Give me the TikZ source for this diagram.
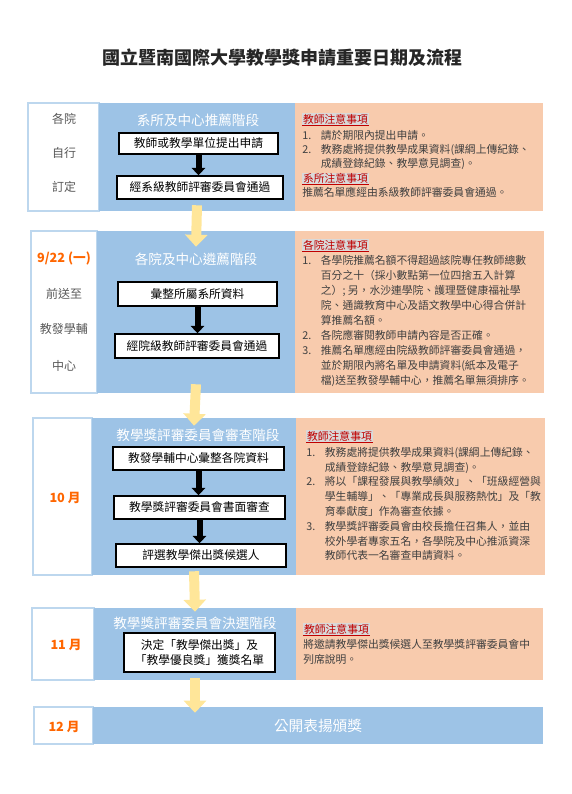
\documentclass[tikz,border=0pt]{standalone}
\usepackage{fontspec}
\setmainfont{Noto Sans CJK TC}
\usetikzlibrary{arrows.meta,positioning,calc,fit}
\definecolor{panelblue}{RGB}{157,195,230}
\definecolor{notepeach}{RGB}{248,203,173}
\definecolor{arrowyellow}{RGB}{255,230,153}
\definecolor{dateorange}{RGB}{255,102,0}
\definecolor{sidegray}{RGB}{89,89,89}
\definecolor{bodygray}{RGB}{64,64,64}
\definecolor{headred}{RGB}{192,0,0}
\definecolor{headhl}{RGB}{217,217,217}
\definecolor{sideline}{RGB}{189,215,238}

\newcommand\notehead[1]{%
  \setbox0=\hbox{\setlength{\fboxsep}{0.6pt}\colorbox{headhl}{\textcolor{headred}{#1}}}%
  \rlap{\usebox0}\textcolor{headred}{\rule[-\dimexpr\dp0+0.9pt\relax]{\wd0}{0.9pt}}}
\newcommand\itm[2]{\makebox[14pt][l]{#1}#2}
\newcommand\cnt[1]{\hspace*{14pt}#1}

\begin{document}
\begin{tikzpicture}[x=0.75pt,y=-0.75pt,
  panel/.style={fill=panelblue,inner sep=0pt},
  notebg/.style={fill=notepeach,inner sep=0pt},
  side/.style={draw=sideline,line width=1.2pt,fill=white,inner sep=0pt},
  sidetxt/.style={text=sidegray,font=\fontsize{9}{11}\selectfont},
  datetxt/.style={text=dateorange,font=\bfseries\fontsize{9.5}{11}\selectfont},
  stage/.style={text=white,font=\fontsize{10.2}{12}\selectfont},
  stepbox/.style={draw=black,fill=white,line width=1.1pt,inner sep=1pt,align=center,font=\fontsize{8.8}{11.25}\selectfont},
  notetxt/.style={anchor=north west,align=left,inner sep=0pt,text=bodygray,font=\fontsize{8.1}{11}\selectfont},
  barrow/.style={-{Triangle[width=10pt,length=5.5pt]},line width=4.5pt},
  yarrow/.style={-{Triangle[width=16.5pt,length=9pt]},line width=7.5pt,draw=arrowyellow}]
\useasboundingbox (0,0) rectangle (572,794);

\node[font=\bfseries\fontsize{13.5}{16}\selectfont,text=black!85] (ttl) at (283,58) {國立暨南國際大學教學獎申請重要日期及流程};

% stage 1
\node[side,fit={(28,103) (99,211)}] (lft1) {};
\node[panel,fit={(99,103) (295,211)}] (blu1) {};
\node[notebg,fit={(295,103) (543,211)}] (nte1) {};
\node[sidetxt] (l1a) at (64,119) {各院};
\node[sidetxt] (l1b) at (64,153) {自行};
\node[sidetxt] (l1c) at (64,187) {訂定};
\node[stage] (t1) at (198,120) {系所及中心推薦階段};
\node[stepbox,minimum width=119pt,minimum height=15.75pt] (s1a) at (198.5,143.5) {教師或教學單位提出申請};
\node[stepbox,minimum width=124.5pt,minimum height=17.25pt] (s1b) at (200,187.5) {經系級教師評審委員會通過};
\draw[barrow] (s1a.south) -- (s1a.south |- s1b.north);
\node[notetxt,font=\fontsize{8.1}{10.5}\selectfont] (n1) at (302,113) {\notehead{教師注意事項}\\[1.5pt]
\itm{1.}{請於期限內提出申請。}\\
\itm{2.}{教務處將提供教學成果資料(課綱上傳紀錄、}\\
\cnt{成績登錄紀錄、教學意見調查)。}\\[1pt]
\notehead{系所注意事項}\\
推薦名單應經由系級教師評審委員會通過。};

% stage 2
\node[side,fit={(31,231) (97,393)}] (lft2) {};
\node[panel,fit={(97,231) (295,393)}] (blu2) {};
\node[notebg,fit={(295,231) (544,393)}] (nte2) {};
\node[datetxt] (l2a) at (64,258) {9/22 (一)};
\node[sidetxt] (l2b) at (64,294) {前送至};
\node[sidetxt] (l2c) at (64,329) {教發學輔};
\node[sidetxt] (l2d) at (64,366) {中心};
\node[stage] (t2) at (196,259) {各院及中心遴薦階段};
\node[stepbox,minimum width=119pt,minimum height=18pt] (s2a) at (197.5,294) {彙整所屬系所資料};
\node[stepbox,minimum width=123pt,minimum height=18pt] (s2b) at (197,346) {經院級教師評審委員會通過};
\draw[barrow] (s2a.south) -- (s2a.south |- s2b.north);
\node[notetxt,font=\fontsize{8.1}{11.25}\selectfont] (n2) at (302,239) {\notehead{各院注意事項}\\
\itm{1.}{各學院推薦名額不得超過該院專任教師總數}\\
\cnt{百分之十（採小數點第一位四捨五入計算}\\
\cnt{之）; 另，水沙連學院、護理暨健康福祉學}\\
\cnt{院、通識教育中心及語文教學中心得合併計}\\
\cnt{算推薦名額。}\\
\itm{2.}{各院應審閱教師申請內容是否正確。}\\
\itm{3.}{推薦名單應經由院級教師評審委員會通過，}\\
\cnt{並於期限內將名單及申請資料(紙本及電子}\\
\cnt{檔)送至教發學輔中心，推薦名單無須排序。}};

% stage 3
\node[side,fit={(33,418) (92,575)}] (lft3) {};
\node[panel,fit={(92,418) (296,575)}] (blu3) {};
\node[notebg,fit={(296,418) (545,575)}] (nte3) {};
\node[datetxt] (l3a) at (65,498) {10 月};
\node[stage] (t3) at (198,435) {教學獎評審委員會審查階段};
\node[stepbox,minimum width=128pt,minimum height=17.25pt] (s3a) at (198.5,458.5) {教發學輔中心彙整各院資料};
\node[stepbox,minimum width=128pt,minimum height=17.25pt] (s3b) at (199.5,507.5) {教學獎評審委員會書面審查};
\node[stepbox,minimum width=127.5pt,minimum height=17.25pt] (s3c) at (201,555.5) {評選教學傑出獎候選人};
\draw[barrow] (s3a.south) -- (s3a.south |- s3b.north);
\draw[barrow] (s3b.south) -- (s3b.south |- s3c.north);
\node[notetxt,font=\fontsize{8.1}{11.1}\selectfont] (n3) at (306,430) {\notehead{教師注意事項}\\[1pt]
\itm{1.}{教務處將提供教學成果資料(課綱上傳紀錄、}\\
\cnt{成績登錄紀錄、教學意見調查)。}\\
\itm{2.}{將以「課程發展與教學績效」、「班級經營與}\\
\cnt{學生輔導」、「專業成長與服務熱忱」及「教}\\
\cnt{育奉獻度」作為審查依據。}\\
\itm{3.}{教學獎評審委員會由校長擔任召集人，並由}\\
\cnt{校外學者專家五名，各學院及中心推派資深}\\
\cnt{教師代表一名審查申請資料。}};

% stage 4
\node[side,fit={(32,608) (94,680)}] (lft4) {};
\node[panel,fit={(94,608) (296,680)}] (blu4) {};
\node[notebg,fit={(296,608) (543,680)}] (nte4) {};
\node[datetxt] (l4a) at (66,645) {11 月};
\node[stage] (t4) at (195,623) {教學獎評審委員會決選階段};
\node[stepbox,minimum width=113pt,minimum height=29pt] (s4a) at (199.5,652.5) {決定「教學傑出獎」及\\「教學優良獎」獲獎名單};
\node[notetxt,font=\fontsize{8.1}{11.25}\selectfont] (n4) at (303,623) {\notehead{教師注意事項}\\
將邀請教學傑出獎候選人至教學獎評審委員會中\\
列席說明。};

% stage 5
\node[side,fit={(34,707) (93,744)}] (lft5) {};
\node[panel,fit={(93,707) (543,744)}] (blu5) {};
\node[datetxt] (l5a) at (64,727) {12 月};
\node[stage,font=\fontsize{11}{13}\selectfont] (t5) at (blu5.center) {公開表揚頒獎};

% yellow arrows
\draw[yarrow] ($(blu1.south)+(0,-6)$) -- ($(blu2.north)+(0,16)$);
\draw[yarrow] ($(blu2.south)+(0,-9)$) -- ($(blu3.north)+(0,8)$);
\draw[yarrow] ($(blu3.south)+(0,-4)$) -- ($(blu4.north)+(0,4)$);
\draw[yarrow] ($(blu4.south)+(0,-2)$) -- ($(blu4.south |- blu5.north)+(0,6)$);
\end{tikzpicture}
\end{document}
